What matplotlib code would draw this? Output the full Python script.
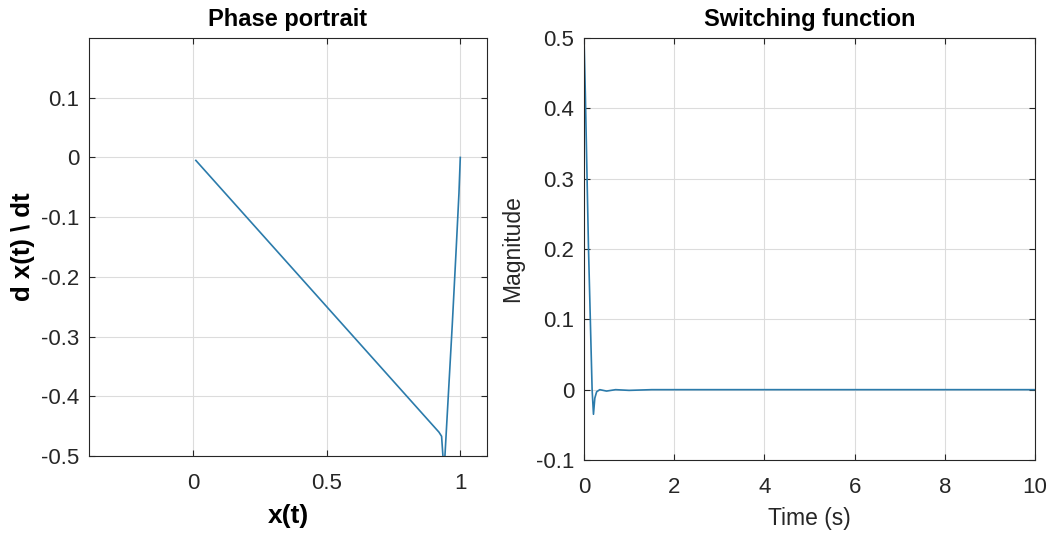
import numpy as np
import matplotlib.pyplot as plt

plt.rcParams['font.family'] = ['Liberation Sans', 'DejaVu Sans']

# phase portrait data (x, dx/dt)
x_pos = [1.0, 0.995, 0.985, 0.97, 0.955, 0.945, 0.94, 0.935, 0.93, 0.92,
         0.8, 0.6, 0.4, 0.2, 0.1, 0.01]
x_vel = [0.0, -0.06, -0.15, -0.28, -0.40, -0.48, -0.52, -0.50, -0.467, -0.46,
         -0.40, -0.30, -0.20, -0.10, -0.05, -0.005]

# switching function data
t = [0.0, 0.03, 0.1, 0.18, 0.21, 0.24, 0.28, 0.35, 0.5, 0.7, 1.0, 1.5, 2.0,
     3.0, 4.0, 6.0, 8.0, 10.0]
s = [0.5, 0.42, 0.2, 0.0, -0.035, -0.012, -0.003, 0.0, -0.002, 0.0, -0.001,
     0.0, 0.0, 0.0, 0.0, 0.0, 0.0, 0.0]

line_color = '#2b7bab'
txt = '#262626'

fig = plt.figure(figsize=(10.54, 5.33), dpi=100)
ax1 = fig.add_axes([89/1054, 1 - 456/533, 398/1054, 418/533])
ax2 = fig.add_axes([584/1054, 1 - 460/533, 451/1054, 422/533])

for ax in (ax1, ax2):
    ax.grid(True, color='#dcdcdc', linewidth=0.8)
    ax.set_axisbelow(True)
    ax.tick_params(direction='in', top=True, right=True, labelsize=16,
                   colors=txt, length=4)
    ax.tick_params(axis='x', pad=12)
    ax.tick_params(axis='y', pad=7)
    for sp in ax.spines.values():
        sp.set_color(txt)
        sp.set_linewidth(0.8)

ax1.plot(x_pos, x_vel, color=line_color, linewidth=1.2)
ax1.set_xlim(-0.39, 1.1)
ax1.set_ylim(-0.5, 0.2)
ax1.set_xticks([0, 0.5, 1])
ax1.set_xticklabels(['0', '0.5', '1'])
ax1.set_yticks([-0.5, -0.4, -0.3, -0.2, -0.1, 0, 0.1])
ax1.set_yticklabels(['-0.5', '-0.4', '-0.3', '-0.2', '-0.1', '0', '0.1'])
ax1.set_title('Phase portrait', fontsize=17, fontweight='bold', color='black', pad=8.5)
ax1.set_xlabel('x(t)', fontsize=19, fontweight='bold', color='black', va='center')
ax1.set_ylabel('d x(t) \\ dt', fontsize=18.5, fontweight='bold', color='black', va='center')
ax1.xaxis.set_label_coords(0.5, (456 - 516) / 418)
ax1.yaxis.set_label_coords((23 - 89) / 398, 0.5)

ax2.plot(t, s, color=line_color, linewidth=1.2)
ax2.set_xlim(0, 10)
ax2.set_ylim(-0.1, 0.5)
ax2.set_xticks([0, 2, 4, 6, 8, 10])
ax2.set_yticks([-0.1, 0, 0.1, 0.2, 0.3, 0.4, 0.5])
ax2.set_yticklabels(['-0.1', '0', '0.1', '0.2', '0.3', '0.4', '0.5'])
ax2.set_title('Switching function', fontsize=17, fontweight='bold', color='black', pad=8.5)
ax2.set_xlabel('Time (s)', fontsize=16.5, color=txt, va='center')
ax2.set_ylabel('Magnitude', fontsize=16.5, color=txt, va='center')
ax2.xaxis.set_label_coords(0.5, (460 - 518) / 422)
ax2.yaxis.set_label_coords((513 - 584) / 451, 0.5)

fig.savefig('out.png', dpi=100)
